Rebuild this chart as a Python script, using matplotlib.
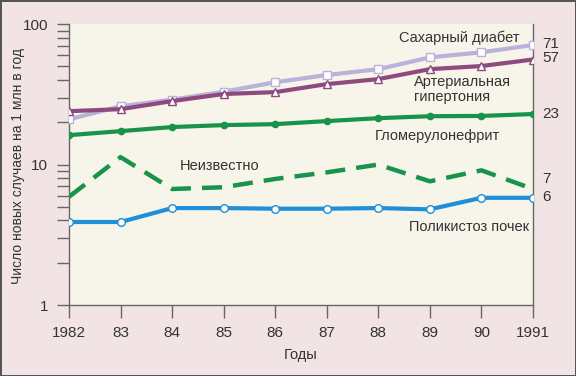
import matplotlib.pyplot as plt
from matplotlib.ticker import LogLocator, NullFormatter, FixedLocator

years = [1982, 1983, 1984, 1985, 1986, 1987, 1988, 1989, 1990, 1991]
year_labels = ["1982", "83", "84", "85", "86", "87", "88", "89", "90", "1991"]

diabetes = [21, 26, 29, 33, 38.6, 43.4, 47.8, 58, 63, 71]
hypertension = [24, 24.8, 28.3, 31.8, 32.8, 37.4, 40.6, 47.8, 50.3, 56]
glomerulo = [16.2, 17.3, 18.5, 19.1, 19.4, 20.4, 21.4, 22.1, 22.2, 22.9]
unknown = [5.9, 11.3, 6.7, 6.9, 7.9, 8.8, 10.0, 7.6, 9.1, 6.7]
polycystic = [3.9, 3.9, 4.9, 4.9, 4.85, 4.85, 4.9, 4.8, 5.8, 5.8]

end_labels = ["71", "57", "23", "7", "6"]

plt.rcParams['font.family'] = ['Liberation Sans', 'DejaVu Sans']

fig = plt.figure(figsize=(5.76, 3.76), dpi=100)
fig.patch.set_facecolor("#f2e4e4")
fig.patch.set_edgecolor("#555555")
fig.patch.set_linewidth(2)
ax = fig.add_axes([0.1198, 0.1888, 0.8055, 0.747])
ax.set_facecolor("#f7f4ea")

txt = "#333333"
green = "#17934a"
fs = 10.5

ax.plot(years, diabetes, color="#b9b2d9", lw=3, marker="s", ms=5.5,
        mfc="white", mec="#b9b2d9", mew=1, zorder=3)
ax.plot(years, hypertension, color="#8e4a7e", lw=3, marker="^", ms=6,
        mfc="white", mec="#8e4a7e", mew=1, zorder=4)
ax.plot(years, glomerulo, color=green, lw=3, marker="o", ms=4.5,
        mfc=green, mec=green, zorder=3)
ax.plot(years, unknown, color=green, lw=3.2, dashes=(4.5, 2.5), zorder=3)
ax.plot(years, polycystic, color="#1e8fd8", lw=3, marker="o", ms=5.5,
        mfc="white", mec="#1e8fd8", mew=1, zorder=3)

ax.set_yscale("log")
ax.set_ylim(1, 100)
ax.set_xlim(1982, 1991)
ax.yaxis.set_major_locator(FixedLocator([1, 10, 100]))
ax.yaxis.set_major_formatter(plt.FixedFormatter(["1", "10", "100"]))
ax.yaxis.set_minor_locator(LogLocator(base=10, subs=range(2, 10)))
ax.yaxis.set_minor_formatter(NullFormatter())
ax.set_xticks(years)
ax.set_xticklabels(year_labels)

ax.tick_params(axis="y", which="both", direction="out", length=9, width=1,
               color="#666666", labelsize=11, labelcolor=txt, pad=6)
ax.tick_params(axis="x", direction="out", length=9, width=1,
               color="#666666", labelsize=11, labelcolor=txt, pad=6)

for s in ["left", "bottom", "right"]:
    ax.spines[s].set_color("#666666")
    ax.spines[s].set_linewidth(1)
ax.spines["top"].set_visible(False)

ax.set_xlabel("Годы", fontsize=fs, color=txt, labelpad=6)
fig.text(18 / 576, 1 - 166 / 376, "Число новых случаев на 1 млн в год", fontsize=10,
         color=txt, rotation=90, ha="center", va="center")

ax.text(1988.4, 80, "Сахарный диабет", fontsize=fs, color=txt, ha="left", va="center")
ax.text(1988.7, 34, "Артериальная\nгипертония", fontsize=fs, color=txt,
        ha="left", va="center", linespacing=1.1)
ax.text(1987.93, 16, "Гломерулонефрит", fontsize=fs, color=txt, ha="left", va="center")
ax.text(1984.15, 9.8, "Неизвестно", fontsize=fs, color=txt, ha="left", va="center")
ax.text(1988.6, 3.6, "Поликистоз почек", fontsize=fs, color=txt, ha="left", va="center")

ends = [72, 57, 23, 7.9, 5.9]
for lab, v in zip(end_labels, ends):
    ax.annotate(lab, xy=(1991, v), xytext=(7, 0), textcoords="offset points",
                fontsize=fs + 0.5, color=txt, ha="left", va="center", annotation_clip=False)

fig.savefig("out.png", dpi=100, facecolor=fig.get_facecolor(), edgecolor=fig.get_edgecolor())
